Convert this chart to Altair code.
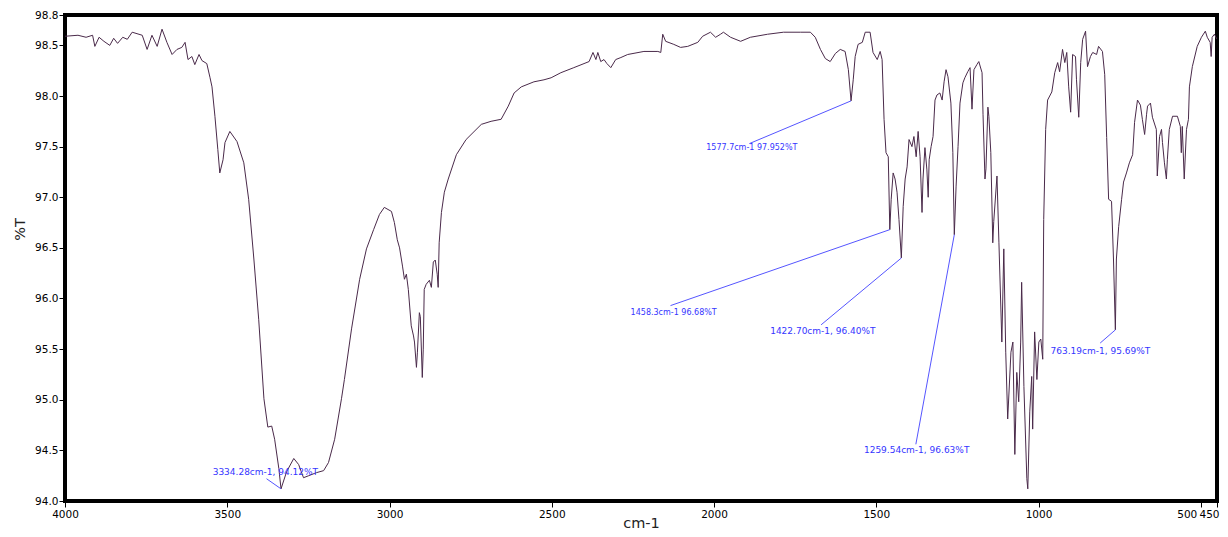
import altair as alt
import pandas as pd

# wavenumber (cm-1) and transmittance (%T)
wavenumber = [
    4000, 3960, 3935, 3915, 3908, 3895, 3880, 3862, 3850, 3838,
    3822, 3808, 3793, 3762, 3747, 3732, 3716, 3701, 3686, 3670,
    3655, 3640, 3630, 3621, 3609, 3600, 3587, 3578, 3563, 3553,
    3547, 3538, 3529, 3523, 3513, 3507, 3492, 3470, 3449, 3434,
    3418, 3403, 3387, 3375, 3363, 3354, 3341, 3334.28, 3317, 3295,
    3280, 3265, 3249, 3225, 3203, 3188, 3169, 3148, 3139, 3117,
    3092, 3071, 3049, 3031, 3016, 2994, 2985, 2976, 2969, 2960,
    2954, 2948, 2942, 2933, 2926, 2923, 2917, 2914, 2908, 2905,
    2899, 2896, 2893, 2887, 2877, 2871, 2865, 2859, 2853, 2850,
    2847, 2840, 2831, 2819, 2794, 2764, 2717, 2687, 2656, 2634,
    2616, 2594, 2555, 2524, 2502, 2472, 2432, 2385, 2373, 2364,
    2358, 2349, 2339, 2330, 2318, 2303, 2287, 2266, 2216, 2173,
    2164, 2158, 2149, 2124, 2103, 2081, 2050, 2035, 2011, 1995,
    1980, 1971, 1949, 1918, 1888, 1835, 1786, 1734, 1703, 1688,
    1672, 1657, 1642, 1626, 1611, 1596, 1586, 1577.7, 1571, 1565,
    1556, 1543, 1534, 1519, 1510, 1497, 1488, 1482, 1476, 1470,
    1463, 1458.3, 1454, 1448, 1442, 1436, 1430, 1422.7, 1417, 1411,
    1405, 1399, 1390, 1384, 1377, 1371, 1365, 1359, 1356, 1350,
    1344, 1340, 1337, 1331, 1325, 1319, 1313, 1304, 1297, 1291,
    1285, 1279, 1270, 1264, 1259.54, 1254, 1248, 1242, 1233, 1227,
    1218, 1211, 1205, 1199, 1190, 1184, 1174, 1171, 1165, 1162,
    1156, 1153, 1147, 1141, 1138, 1128, 1122, 1113, 1107, 1101,
    1095, 1085, 1079, 1073, 1067, 1061, 1055, 1052, 1045, 1036,
    1033, 1027, 1021, 1018, 1012, 1005, 999, 993, 987, 984,
    978, 972, 959, 950, 941, 935, 926, 919, 913, 907,
    901, 895, 886, 883, 876, 870, 864, 855, 849, 840,
    833, 821, 815, 803, 796, 790, 784, 775, 769, 763.19,
    760, 753, 744, 738, 729, 720, 710, 704, 695, 686,
    680, 673, 667, 664, 655, 649, 637, 634, 627, 621,
    618, 612, 606, 603, 597, 587, 572, 563, 560, 557,
    551, 544, 538, 535, 526, 511, 498, 486, 480, 471,
    468, 465, 458, 450,
]
transmittance = [
    98.59, 98.60, 98.58, 98.60, 98.49, 98.58, 98.54, 98.50, 98.57, 98.52,
    98.58, 98.56, 98.63, 98.60, 98.46, 98.60, 98.49, 98.66, 98.53, 98.41,
    98.46, 98.48, 98.53, 98.36, 98.39, 98.31, 98.41, 98.35, 98.32, 98.18,
    98.09, 97.80, 97.47, 97.24, 97.37, 97.54, 97.65, 97.55, 97.34, 96.98,
    96.39, 95.79, 95.01, 94.73, 94.74, 94.61, 94.32, 94.12, 94.29, 94.42,
    94.36, 94.23, 94.25, 94.28, 94.30, 94.38, 94.61, 95.01, 95.20, 95.70,
    96.19, 96.49, 96.68, 96.83, 96.90, 96.86, 96.75, 96.58, 96.50, 96.32,
    96.19, 96.24, 96.09, 95.73, 95.63, 95.57, 95.32, 95.47, 95.86, 95.82,
    95.22, 95.50, 96.09, 96.14, 96.18, 96.11, 96.36, 96.38, 96.24, 96.11,
    96.55, 96.85, 97.05, 97.18, 97.42, 97.57, 97.72, 97.75, 97.77, 97.90,
    98.03, 98.09, 98.14, 98.16, 98.18, 98.23, 98.28, 98.34, 98.43, 98.36,
    98.43, 98.34, 98.36, 98.32, 98.28, 98.36, 98.38, 98.41, 98.44, 98.44,
    98.43, 98.61, 98.54, 98.51, 98.48, 98.49, 98.53, 98.59, 98.63, 98.58,
    98.61, 98.63, 98.58, 98.54, 98.58, 98.61, 98.63, 98.63, 98.63, 98.58,
    98.46, 98.37, 98.34, 98.42, 98.46, 98.44, 98.26, 97.952, 98.16, 98.39,
    98.51, 98.53, 98.63, 98.63, 98.43, 98.36, 98.44, 98.36, 97.77, 97.44,
    97.40, 96.68, 96.98, 97.24, 97.18, 97.05, 96.78, 96.40, 96.91, 97.18,
    97.30, 97.57, 97.50, 97.60, 97.40, 97.65, 97.40, 96.85, 97.18, 97.49,
    97.27, 97.00, 97.37, 97.50, 97.60, 97.96, 98.01, 98.03, 97.96, 98.14,
    98.26, 98.19, 97.93, 97.44, 96.63, 97.11, 97.50, 97.93, 98.13, 98.18,
    98.24, 98.28, 97.87, 98.26, 98.31, 98.34, 98.23, 97.82, 97.18, 97.28,
    97.89, 97.80, 97.44, 96.55, 96.76, 97.21, 96.55, 95.57, 96.49, 95.47,
    94.81, 95.47, 95.57, 94.46, 95.27, 94.98, 95.57, 96.16, 95.13, 94.22,
    94.12, 94.88, 95.23, 94.71, 95.67, 95.20, 95.57, 95.60, 95.40, 96.78,
    97.67, 97.96, 98.04, 98.23, 98.33, 98.24, 98.46, 98.33, 98.43, 98.09,
    97.84, 98.41, 98.39, 98.16, 97.79, 98.33, 98.56, 98.64, 98.29, 98.39,
    98.43, 98.41, 98.49, 98.44, 98.21, 97.59, 96.98, 96.96, 96.39, 95.69,
    96.39, 96.71, 96.98, 97.15, 97.24, 97.34, 97.42, 97.74, 97.96, 97.91,
    97.77, 97.62, 97.82, 97.90, 97.93, 97.79, 97.67, 97.21, 97.60, 97.67,
    97.54, 97.34, 97.18, 97.37, 97.67, 97.80, 97.80, 97.70, 97.44, 97.70,
    97.18, 97.67, 97.77, 98.09, 98.29, 98.49, 98.58, 98.64, 98.58, 98.53,
    98.39, 98.58, 98.61, 98.56,
]

# peak annotations
peak_labels = [
    "3334.28cm-1, 94.12%T",
    "1577.7cm-1 97.952%T",
    "1458.3cm-1 96.68%T",
    "1422.70cm-1, 96.40%T",
    "1259.54cm-1, 96.63%T",
    "763.19cm-1, 95.69%T",
]
peak_w = [3334.28, 1577.7, 1458.3, 1422.7, 1259.54, 763.19]
peak_t = [94.12, 97.952, 96.68, 96.40, 96.63, 95.69]
label_w = [3545, 2024, 2257, 1827, 1538, 963]
label_t = [94.29, 97.49, 95.86, 95.68, 94.50, 95.48]
leader_w = [3379, 1891, 2134, 1670, 1378, 810]
leader_t = [94.22, 97.53, 95.93, 95.74, 94.56, 95.56]
label_size = [9, 8, 8, 9, 9, 9]

x_ticks = [4000, 3500, 3000, 2500, 2000, 1500, 1000, 500, 450]
y_ticks = [94.0, 94.5, 95.0, 95.5, 96.0, 96.5, 97.0, 97.5, 98.0, 98.5, 98.8]

FONT = "DejaVu Sans"

spec = pd.DataFrame({"w": wavenumber, "t": transmittance,
                     "i": list(range(len(wavenumber)))})
ann = pd.DataFrame({"label": peak_labels, "pw": peak_w, "pt": peak_t,
                    "lw": label_w, "lt": label_t, "sw": leader_w,
                    "st": leader_t, "fs": label_size})

xscale = alt.Scale(domain=[4000, 450], nice=False, zero=False)
yscale = alt.Scale(domain=[94.0, 98.8], nice=False, zero=False)

xaxis = alt.Axis(
    values=x_ticks, format="d", title="cm-1", grid=False, domain=False,
    ticks=True, tickSize=6, tickColor="black", labelFont=FONT,
    labelFontSize=10.5, labelColor="black", labelFlush=False,
    labelOverlap=False, labelPadding=2,
    labelAlign={"condition": {"test": "datum.value === 450", "value": "right"},
                "value": "center"},
    labelOffset={"condition": [
        {"test": "datum.value === 500", "value": -14},
        {"test": "datum.value === 450", "value": 2},
    ], "value": 0},
    titleFont=FONT, titleFontSize=14.5, titleFontWeight="normal",
    titleColor="#222222", titleY=26, titleBaseline="alphabetic",
)
yaxis = alt.Axis(
    values=y_ticks, format=".1f", title="%T", grid=False, domain=False,
    ticks=True, tickSize=6, tickColor="black", labelFont=FONT,
    labelFontSize=10.5, labelColor="black", labelFlush=False,
    labelOverlap=False, labelPadding=1,
    titleFont=FONT, titleFontSize=14.5, titleFontWeight="normal",
    titleColor="#222222", titleX=-41, titleY=214, titleAngle=-90,
    titleBaseline="alphabetic", titleAlign="center",
)

line = alt.Chart(spec).mark_line(color="#4a2a4a", strokeWidth=1, clip=True).encode(
    x=alt.X("w:Q", scale=xscale, axis=xaxis),
    y=alt.Y("t:Q", scale=yscale, axis=yaxis),
    order="i:Q",
)

leaders = alt.Chart(ann).mark_rule(color="#5555ff", strokeWidth=1).encode(
    x="sw:Q", y="st:Q", x2="pw:Q", y2="pt:Q",
)

texts = alt.Chart(ann).mark_text(
    align="left", baseline="middle", font=FONT, color="#3535ff"
).encode(
    x="lw:Q", y="lt:Q", text="label:N",
    size=alt.Size("fs:Q", scale=None, legend=None),
)

chart = alt.layer(line, leaders, texts).properties(
    width=1152, height=486,
    padding={"left": 57, "top": 7, "right": 3, "bottom": 28},
    autosize="none",
).configure_view(stroke="black", strokeWidth=4)

chart.save("out.html", embed_options={"renderer": "svg", "actions": False})
